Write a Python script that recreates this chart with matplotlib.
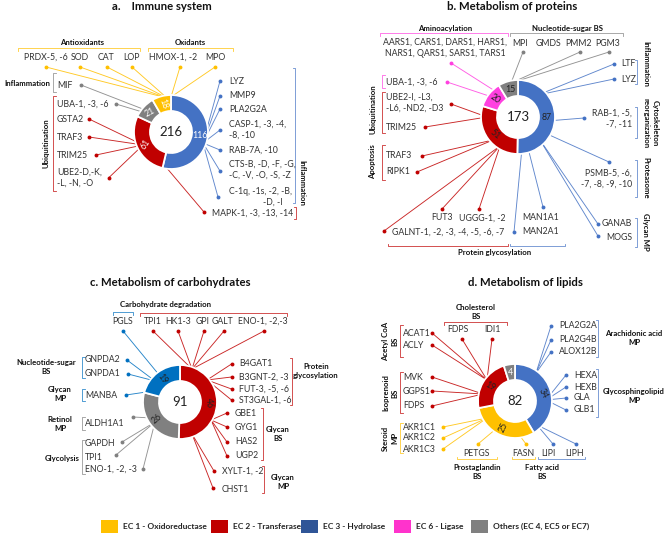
import matplotlib
matplotlib.use("Agg")
import math
import matplotlib.pyplot as plt
from matplotlib.patches import Rectangle

plt.rcParams['font.family'] = ['Lato', 'DejaVu Sans']

# ---------------- data ----------------
legend_classes = ['EC1', 'EC2', 'EC3', 'EC6', 'OTH']
legend_labels = ['EC 1 - Oxidoreductase', 'EC 2 - Transferase', 'EC 3 - Hydrolase',
                 'EC 6 - Ligase', 'Others (EC 4, EC5 or EC7)']
panel_titles = ['a.    Immune system', 'b. Metabolism of proteins',
                'c. Metabolism of carbohydrates', 'd. Metabolism of lipids']

a_classes = ['EC3', 'EC2', 'OTH', 'EC1']
a_values = [116, 61, 21, 18]
b_classes = ['EC3', 'EC2', 'EC6', 'OTH']
b_values = [87, 51, 20, 15]
c_classes = ['EC2', 'OTH', 'EC3c']
c_values = [46, 26, 19]
d_classes = ['EC3', 'EC1', 'EC2', 'OTH']
d_values = [34, 25, 19, 4]

# gene / group labels
a_groups = ['Antioxidants', 'Oxidants', 'Inflammation', 'Ubiquitination', 'Inflammation']
a_genes = ['PRDX-5, -6', 'SOD', 'CAT', 'LOP', 'HMOX-1, -2', 'MPO',
           'MIF', 'UBA-1, -3, -6', 'GSTA2', 'TRAF3', 'TRIM25', 'UBE2-D,-K,\n-L, -N, -O',
           'MAPK-1, -3, -13, -14',
           'LYZ', 'MMP9', 'PLA2G2A', 'CASP-1, -3, -4,\n-8, -10', 'RAB-7A, -10',
           'CTS-B, -D, -F, -G,\n-C, -V, -O, -S, -Z', 'C-1q, -1s, -2, -B,', '-D, -I']
b_groups = ['Aminoacylation', 'Nucleotide-sugar BS', 'Inflammation',
            'Cytoskeleton\nreorganization', 'Proteasome', 'Glycan MP',
            'Protein glycosylation', 'Ubiquitination', 'Apoptosis']
b_genes = ['AARS1, CARS1, DARS1, HARS1,\nNARS1, QARS1, SARS1, TARS1',
           'MPI', 'GMDS', 'PMM2', 'PGM3', 'LTF', 'LYZ', 'RAB-1, -5,\n-7, -11',
           'PSMB-5, -6,\n-7, -8, -9, -10', 'GANAB', 'MOGS', 'MAN1A1', 'MAN2A1',
           'GALNT-1, -2, -3, -4, -5, -6, -7', 'FUT3', 'UGGG-1, -2',
           'UBA-1, -3, -6', 'UBE2-I, -L3,\n-L6, -ND2, -D3', 'TRIM25', 'TRAF3', 'RIPK1']
c_groups = ['Carbohydrate degradation', 'Nucleotide-sugar\nBS', 'Glycan\nMP',
            'Retinol\nMP', 'Glycolysis', 'Protein\nglycosylation', 'Glycan\nBS', 'Glycan\nMP']
c_genes = ['PGLS', 'TPI1', 'HK1-3', 'GPI', 'GALT', 'ENO-1, -2,-3',
           'GNPDA2', 'GNPDA1', 'MANBA', 'ALDH1A1', 'GAPDH', 'TPI1', 'ENO-1, -2, -3',
           'B4GAT1', 'B3GNT-2, -3', 'FUT-3, -5, -6', 'ST3GAL-1, -6',
           'GBE1', 'GYG1', 'HAS2', 'UGP2', 'XYLT-1, -2', 'CHST1']
d_groups = ['Cholesterol\nBS', 'Acetyl CoA\nBS', 'Isoprenoid\nBS', 'Steroid\nMP',
            'Prostaglandin\nBS', 'Fatty acid\nBS', 'Arachidonic acid\nMP',
            'Glycosphingolipid\nMP']
d_genes = ['FDPS', 'IDI1', 'ACAT1', 'ACLY', 'MVK', 'GGPS1', 'FDPS',
           'AKR1C1', 'AKR1C2', 'AKR1C3', 'PETGS', 'FASN', 'LIPI', 'LIPH',
           'PLA2G2A', 'PLA2G4B', 'ALOX12B', 'HEXA', 'HEXB', 'GLA', 'GLB1']

# ---------------- style ----------------
COL = {'EC1': '#FFC000', 'EC2': '#C00000', 'EC3': '#4472C4', 'EC3c': '#0070C0',
       'EC6': '#FF40E0', 'OTH': '#808080'}
LEG_COL = {'EC1': '#FFC000', 'EC2': '#C00000', 'EC3': '#2F5597', 'EC6': '#FF33CC',
           'OTH': '#808080'}
TXT = '#333333'
FS = 6.3
FSB = 5.6
R, W = 37, 16

fig = plt.figure(figsize=(6.69, 5.35), dpi=100)
ax = fig.add_axes([0, 0, 1, 1])


def donut(values, classes, cx, cy, rots, tcols):
    wedges, _ = ax.pie(values, colors=[COL[c] for c in classes], startangle=-90,
                       counterclock=True, radius=R, center=(cx, cy), frame=True,
                       wedgeprops=dict(width=W, edgecolor='white', linewidth=1.3))
    for w, v, rot, tc in zip(wedges, values, rots, tcols):
        w.set_zorder(3)
        m = math.radians((w.theta1 + w.theta2) / 2)
        ax.text(cx + (R - W / 2) * math.cos(m), cy + (R - W / 2) * math.sin(m), str(v),
                ha='center', va='center', rotation=rot, fontsize=FS, color=tc,
                zorder=4, rotation_mode='anchor')
    ax.text(cx, cy, str(sum(values)), ha='center', va='center', fontsize=9.5,
            color='#222222', zorder=4)


def gtext(x, y, s, ha='left', va='center'):
    ax.text(x, y, s, ha=ha, va=va, fontsize=FS, color=TXT, linespacing=1.25, zorder=5)


def btext(x, y, s, ha='center', rot=0):
    ax.text(x, y, s, ha=ha, va='center', fontsize=FSB, fontweight='bold',
            color='#111111', rotation=rot, linespacing=1.35, zorder=5)


def callout(dot, anchor, ck):
    c = COL[ck]
    ax.plot([dot[0], anchor[0]], [dot[1], anchor[1]], color=c, lw=0.65, alpha=0.85,
            zorder=1, solid_capstyle='butt')
    ax.plot(dot[0], dot[1], 'o', ms=2.8, color=c, mec='none', zorder=2)


def vbr(x, y0, y1, ck, side=1, t=2.5):
    c = COL[ck]
    ax.plot([x + side * t, x, x, x + side * t], [y0, y0, y1, y1], color=c, lw=0.6,
            alpha=0.8, zorder=1)


def hbr(x0, x1, y, ck, side=1, t=2.5):
    c = COL[ck]
    ax.plot([x0, x0, x1, x1], [y + side * t, y, y, y + side * t], color=c, lw=0.6,
            alpha=0.8, zorder=1)


# ---------------- panel a ----------------
ax.text(162, 7, panel_titles[0], ha='center', va='center', fontsize=8.2,
        fontweight='bold', color='#111111')
donut(a_values, a_classes, 171, 132, [0, 55, 28, -70], ['white'] * 4)
hbr(18, 140, 48, 'EC1'); btext(82, 42.5, a_groups[0])
hbr(148, 233, 48, 'EC1'); btext(190, 42.5, a_groups[1])
top_x = [46, 80, 106, 132, 173, 215]
dot_x = [46, 80, 107, 132, 180, 215]
for i in range(6):
    gtext(top_x[i], 57, a_genes[i], ha='center')
    callout((dot_x[i], 67), (167, 98) if i < 4 else (171, 97), 'EC1')
btext(50, 83, a_groups[2], ha='right')
vbr(53, 73, 92, 'OTH')
gtext(57, 86, a_genes[6]); callout((81, 85), (148, 111), 'OTH')
gtext(57, 104, a_genes[7]); callout((116, 104), (149, 114), 'OTH')
vbr(53, 96, 191, 'EC2')
btext(46, 143, a_groups[3], rot=90)
red_y = [119, 137, 155, 177.5]
red_dx = [89, 89, 96, 109]
for i in range(4):
    gtext(57, red_y[i], a_genes[8 + i])
    callout((red_dx[i], red_y[i]), (143, 145), 'EC2')
gtext(212, 213, a_genes[12]); callout((204, 212), (160, 160), 'EC2')
vbr(296, 207, 219, 'EC2', side=-1)
blue_y = [81, 96, 109, 130, 150, 170, 191]
blue_dy = [81, 96, 109, 130, 150, 171, 197]
for i in range(7):
    gtext(229, blue_y[i], a_genes[13 + i])
    callout((220 if i < 6 else 218, blue_dy[i]), (203, 143), 'EC3')
gtext(263, 202, a_genes[20])
vbr(295, 68, 203, 'EC3', side=-1)
btext(302, 183, a_groups[4], rot=-90)

# ---------------- panel b ----------------
ax.text(512, 7, panel_titles[1], ha='center', va='center', fontsize=8.2,
        fontweight='bold', color='#111111')
donut(b_values, b_classes, 518, 117, [0, -40, -35, 0], ['#222222'] * 4)
hbr(380, 508, 33, 'EC6'); btext(445, 28.5, b_groups[0])
hbr(510, 623, 33, 'OTH'); btext(567, 28.5, b_groups[1])
gtext(445, 48, b_genes[0], ha='center'); callout((451, 63), (495, 91), 'EC6')
for i, x in enumerate([520, 548, 578, 608]):
    gtext(x, 43, b_genes[1 + i], ha='center')
for x in [523, 580, 609]:
    callout((x, 52), (511, 83), 'OTH')
gtext(621, 64, b_genes[5]); callout((614, 64), (538, 95), 'EC3')
gtext(621, 79, b_genes[6]); callout((614, 79), (538, 95), 'EC3')
vbr(637, 60, 84, 'EC3', side=-1); btext(646, 64, b_groups[2], rot=-90)
gtext(632, 119, b_genes[7], ha='right'); callout((584, 118), (547, 121), 'EC3')
vbr(637, 107, 138, 'EC3', side=-1); btext(651, 123, b_groups[3], rot=-90)
gtext(632, 178.5, b_genes[8], ha='right'); callout((609, 162), (545, 133), 'EC3')
vbr(637, 160, 197, 'EC3', side=-1); btext(646, 178, b_groups[4], rot=-90)
gtext(632, 224, b_genes[9], ha='right'); callout((598, 224), (540, 140), 'EC3')
gtext(632, 237, b_genes[10], ha='right'); callout((598, 236), (540, 140), 'EC3')
vbr(637, 218, 247, 'EC3', side=-1); btext(646, 232, b_groups[5], rot=-90)
gtext(541, 218, b_genes[11], ha='center'); callout((543, 207), (528, 148), 'EC3')
gtext(541, 231, b_genes[12], ha='center'); callout((514, 232), (522, 148), 'EC3')
gtext(392, 232, b_genes[13]); callout((384, 231), (500, 146), 'EC2')
gtext(442, 218, b_genes[14], ha='center'); callout((442, 209), (500, 146), 'EC2')
gtext(482, 218, b_genes[15], ha='center'); callout((479, 209), (500, 146), 'EC2')
hbr(388, 508, 246, 'EC2', side=-1); hbr(510, 565, 246, 'EC3', side=-1)
btext(495, 252, b_groups[6])
vbr(382, 75, 88, 'EC6'); gtext(386, 82, b_genes[16]); callout((447, 82), (492, 97), 'EC6')
vbr(382, 92, 133, 'EC2'); btext(373, 109, b_groups[7], rot=90)
gtext(386, 103, b_genes[17]); callout((451, 104), (487, 117), 'EC2')
gtext(386, 127, b_genes[18]); callout((425, 127), (487, 117), 'EC2')
vbr(382, 145, 180, 'EC2'); btext(373, 162, b_groups[8], rot=90)
gtext(386, 156, b_genes[19]); callout((422, 156), (493, 140), 'EC2')
gtext(386, 172, b_genes[20]); callout((417, 172), (493, 140), 'EC2')

# ---------------- panel c ----------------
ax.text(170, 283, panel_titles[2], ha='center', va='center', fontsize=8.2,
        fontweight='bold', color='#111111')
donut(c_values, c_classes, 180, 402, [-85, 40, -55], ['#222222'] * 3)
btext(165, 305, c_groups[0])
hbr(113, 133, 312, 'EC3c'); hbr(140, 287, 313, 'EC2')
cx_lab = [123, 153, 178, 203, 223, 263]
cx_dot = [123, 153, 178, 204, 224, 264]
for i in range(6):
    gtext(cx_lab[i], 321, c_genes[i], ha='center')
    if i == 0:
        callout((cx_dot[i], 331), (160, 376), 'EC3c')
    else:
        callout((cx_dot[i], 331), (192, 369), 'EC2')
btext(46, 367, c_groups[1]); vbr(82, 357, 378, 'EC3c')
gtext(85, 360, c_genes[6]); callout((127, 360), (155, 381), 'EC3c')
gtext(85, 374, c_genes[7]); callout((128, 374), (155, 381), 'EC3c')
btext(60, 394, c_groups[2]); vbr(82, 389, 401, 'EC3c')
gtext(85, 395, c_genes[8]); callout((126, 395), (153, 391), 'EC3c')
btext(60, 424, c_groups[3]); vbr(82, 417, 430, 'OTH')
gtext(85, 424, c_genes[9]); callout((133, 417), (152, 418), 'OTH')
btext(80, 458, c_groups[4], ha='right'); vbr(82, 440, 474, 'OTH')
for y, s, d in [(444, c_genes[10], (122, 442)), (457, c_genes[11], (116, 455)),
                (469, c_genes[12], (143, 469))]:
    gtext(85, y, s); callout(d, (155, 422), 'OTH')
for i, y in enumerate([364, 377, 389, 400]):
    gtext(239, y, c_genes[13 + i]); callout((231.5, y), (207, 380), 'EC2')
vbr(292, 358, 405, 'EC2', side=-1); btext(316, 371, c_groups[5])
for i, y in enumerate([413, 427, 442, 456]):
    gtext(235, y, c_genes[17 + i]); callout((227, y), (211, 420), 'EC2')
vbr(263, 408, 460, 'EC2', side=-1); btext(278, 434, c_groups[6])
gtext(222, 471, c_genes[21]); callout((214, 471), (192, 434), 'EC2')
gtext(222, 489, c_genes[22]); callout((213, 488), (192, 434), 'EC2')
vbr(264, 466, 493, 'EC2', side=-1); btext(283, 482, c_groups[7])

# ---------------- panel d ----------------
ax.text(525, 283, panel_titles[3], ha='center', va='center', fontsize=8.2,
        fontweight='bold', color='#111111')
donut(d_values, d_classes, 515, 401, [-65, 65, -30, 0], ['#222222'] * 3 + ['white'])
btext(476, 312, d_groups[0]); hbr(444, 507, 322, 'EC2')
gtext(458, 330, d_genes[0], ha='center'); callout((462, 339), (487, 380), 'EC2')
gtext(492, 330, d_genes[1], ha='center'); callout((492, 339), (487, 380), 'EC2')
btext(390, 341, d_groups[1], rot=90); vbr(400, 325, 357, 'EC2')
gtext(403, 334, d_genes[2]); callout((432, 333), (487, 380), 'EC2')
gtext(403, 346, d_genes[3]); callout((432, 345), (487, 380), 'EC2')
btext(390, 393, d_groups[2], rot=90); vbr(400, 372, 413, 'EC2')
for i, y in enumerate([377, 391, 406]):
    gtext(403, y, d_genes[4 + i]); callout((432, y), (483, 394), 'EC2')
btext(390, 438, d_groups[3], rot=90); vbr(400, 423, 453, 'EC1')
for i, y in enumerate([427, 438, 449]):
    gtext(403, y, d_genes[7 + i]); callout((443, y), (487, 418), 'EC1')
gtext(477, 453, d_genes[10], ha='center'); callout((478, 444), (497, 428), 'EC1')
gtext(523, 453, d_genes[11], ha='center'); callout((526, 444), (517, 432), 'EC1')
gtext(548, 453, d_genes[12], ha='center'); callout((553, 444), (537, 425), 'EC3')
gtext(575, 453, d_genes[13], ha='center'); callout((576, 444), (537, 425), 'EC3')
hbr(457, 497, 459, 'EC1', side=-1); hbr(512, 535, 459, 'EC1', side=-1)
hbr(538, 585, 459, 'EC3', side=-1)
btext(477, 472, d_groups[4]); btext(542, 472, d_groups[5])
for i, y in enumerate([326, 340, 352]):
    gtext(559, y, d_genes[14 + i]); callout((551, y), (536, 373), 'EC3')
vbr(598, 320, 357, 'EC3', side=-1); btext(634, 338, d_groups[6])
for i, y in enumerate([375, 387, 398, 410]):
    gtext(574, y, d_genes[17 + i]); callout((566, y), (546, 400), 'EC3')
vbr(598, 369, 417, 'EC3', side=-1); btext(634, 396, d_groups[7])

# ---------------- legend ----------------
leg_x = [101, 211, 301, 394, 471]
for x, ck, lab in zip(leg_x, legend_classes, legend_labels):
    ax.add_patch(Rectangle((x, 520), 17, 13, facecolor=LEG_COL[ck], edgecolor='none'))
    ax.text(x + 22, 526.5, lab, ha='left', va='center', fontsize=6.0,
            fontweight='bold', color='#222222')

ax.set_xlim(0, 669)
ax.set_ylim(535, 0)
ax.set_aspect('auto')
ax.set_axis_off()
fig.savefig('out.png', dpi=100)
